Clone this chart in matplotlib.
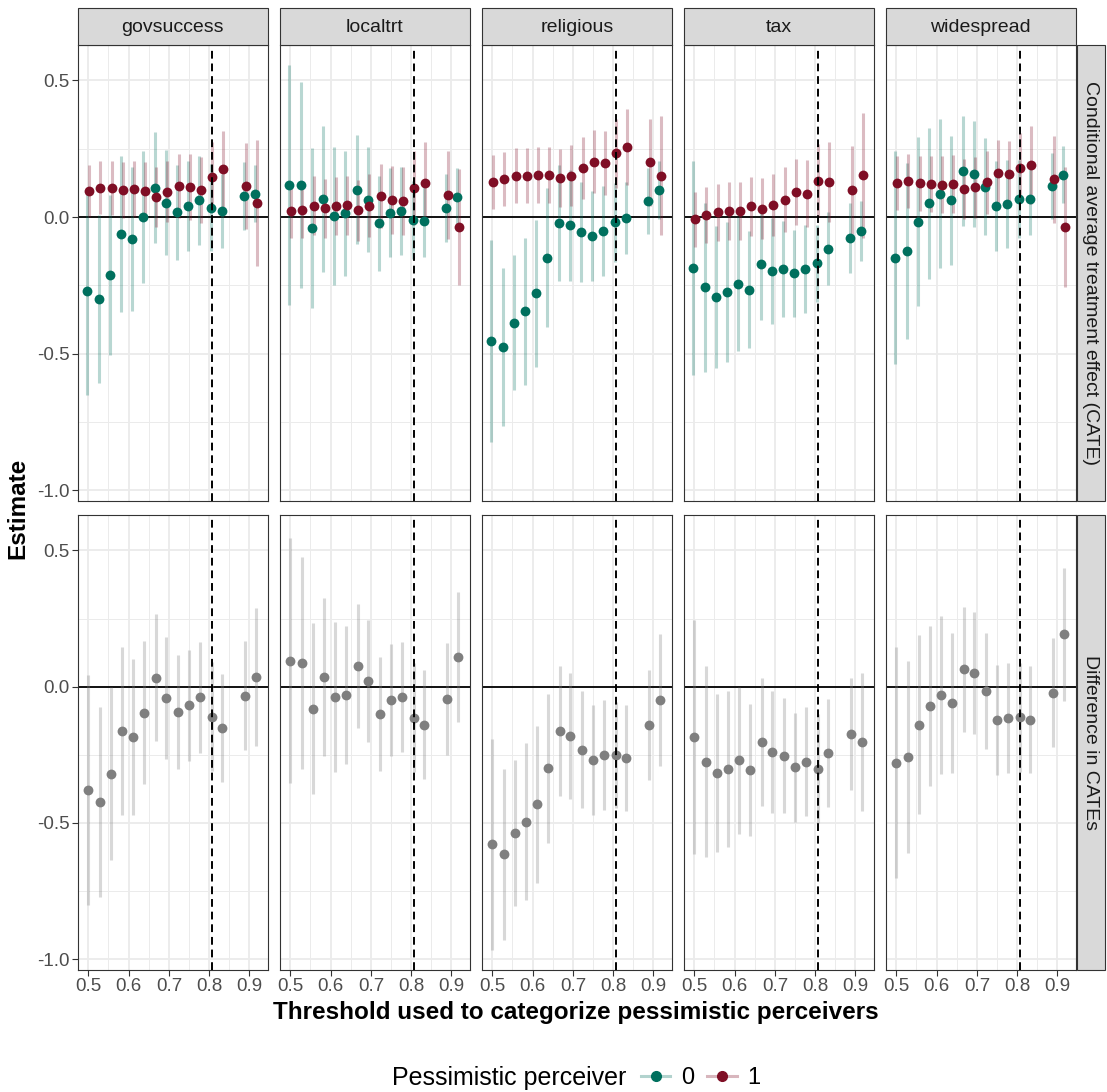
import matplotlib
matplotlib.use("Agg")
import matplotlib.pyplot as plt
from matplotlib.lines import Line2D
from matplotlib.patches import Rectangle

plt.rcParams['font.family'] = ['Liberation Sans', 'DejaVu Sans']
plt.rcParams['axes.unicode_minus'] = False

# thresholds used to split pessimistic perceivers
THRESH = [0.500, 0.528, 0.556, 0.583, 0.611, 0.639, 0.667, 0.694,
          0.722, 0.750, 0.778, 0.806, 0.833, 0.889, 0.917]
CUTOFF = 0.806
TOPICS = ["govsuccess", "localtrt", "religious", "tax", "widespread"]
ROWS = ["Conditional average treatment effect (CATE)", "Difference in CATEs"]

# --- govsuccess ---
GOV_EST0 = [-0.272, -0.301, -0.211, -0.062, -0.081, 0.000, 0.108, 0.053, 0.017, 0.040, 0.061, 0.034, 0.023, 0.078, 0.086]
GOV_HW0 = [0.379, 0.307, 0.293, 0.284, 0.264, 0.241, 0.204, 0.192, 0.173, 0.164, 0.162, 0.160, 0.135, 0.124, 0.105]
GOV_EST1 = [0.095, 0.108, 0.106, 0.099, 0.102, 0.095, 0.075, 0.092, 0.114, 0.110, 0.099, 0.147, 0.176, 0.114, 0.051]
GOV_HW1 = [0.095, 0.098, 0.100, 0.102, 0.103, 0.105, 0.110, 0.112, 0.116, 0.120, 0.122, 0.128, 0.140, 0.157, 0.231]
GOV_DIFF = [-0.379, -0.423, -0.320, -0.163, -0.185, -0.095, 0.033, -0.040, -0.093, -0.068, -0.039, -0.110, -0.152, -0.033, 0.034]
GOV_HWD = [0.423, 0.350, 0.318, 0.309, 0.286, 0.263, 0.232, 0.224, 0.209, 0.204, 0.203, 0.200, 0.197, 0.201, 0.253]

# --- localtrt ---
LOC_EST0 = [0.117, 0.116, -0.040, 0.065, 0.004, 0.013, 0.100, 0.064, -0.023, 0.016, 0.022, -0.010, -0.013, 0.034, 0.072]
LOC_HW0 = [0.441, 0.377, 0.292, 0.268, 0.254, 0.229, 0.199, 0.192, 0.174, 0.162, 0.161, 0.142, 0.132, 0.125, 0.109]
LOC_EST1 = [0.022, 0.027, 0.042, 0.032, 0.040, 0.043, 0.024, 0.042, 0.078, 0.062, 0.059, 0.106, 0.126, 0.080, -0.037]
LOC_HW1 = [0.100, 0.104, 0.107, 0.107, 0.107, 0.109, 0.113, 0.115, 0.118, 0.125, 0.126, 0.135, 0.148, 0.161, 0.212]
LOC_DIFF = [0.095, 0.088, -0.081, 0.034, -0.037, -0.031, 0.076, 0.022, -0.101, -0.048, -0.038, -0.115, -0.139, -0.046, 0.109]
LOC_HWD = [0.450, 0.389, 0.313, 0.290, 0.276, 0.253, 0.229, 0.224, 0.210, 0.205, 0.203, 0.200, 0.200, 0.205, 0.238]

# --- religious ---
REL_EST0 = [-0.454, -0.476, -0.387, -0.345, -0.280, -0.149, -0.022, -0.031, -0.055, -0.069, -0.051, -0.020, -0.004, 0.059, 0.099]
REL_HW0 = [0.369, 0.291, 0.248, 0.269, 0.270, 0.255, 0.214, 0.202, 0.182, 0.165, 0.164, 0.143, 0.131, 0.121, 0.107]
REL_EST1 = [0.129, 0.138, 0.152, 0.152, 0.155, 0.153, 0.142, 0.152, 0.180, 0.203, 0.198, 0.233, 0.257, 0.200, 0.151]
REL_HW1 = [0.099, 0.099, 0.099, 0.101, 0.102, 0.102, 0.107, 0.110, 0.113, 0.115, 0.118, 0.126, 0.140, 0.159, 0.218]
REL_DIFF = [-0.578, -0.615, -0.537, -0.495, -0.432, -0.300, -0.163, -0.181, -0.231, -0.270, -0.251, -0.251, -0.262, -0.141, -0.050]
REL_HWD = [0.387, 0.314, 0.267, 0.289, 0.287, 0.273, 0.240, 0.230, 0.214, 0.202, 0.201, 0.196, 0.193, 0.201, 0.243]

# --- tax ---
TAX_EST0 = [-0.187, -0.257, -0.293, -0.274, -0.246, -0.266, -0.171, -0.197, -0.190, -0.206, -0.191, -0.170, -0.116, -0.076, -0.051]
TAX_HW0 = [0.393, 0.309, 0.261, 0.256, 0.245, 0.215, 0.207, 0.194, 0.175, 0.159, 0.160, 0.140, 0.134, 0.128, 0.110]
TAX_EST1 = [-0.009, 0.007, 0.017, 0.022, 0.022, 0.039, 0.031, 0.044, 0.064, 0.091, 0.086, 0.133, 0.129, 0.098, 0.153]
TAX_HW1 = [0.102, 0.103, 0.104, 0.106, 0.107, 0.109, 0.112, 0.114, 0.119, 0.121, 0.122, 0.133, 0.147, 0.161, 0.228]
TAX_DIFF = [-0.185, -0.275, -0.317, -0.303, -0.271, -0.307, -0.202, -0.240, -0.253, -0.296, -0.276, -0.302, -0.243, -0.174, -0.202]
TAX_HWD = [0.429, 0.352, 0.290, 0.287, 0.271, 0.243, 0.235, 0.224, 0.211, 0.199, 0.200, 0.200, 0.199, 0.205, 0.253]

# --- widespread ---
WID_EST0 = [-0.149, -0.124, -0.017, 0.050, 0.086, 0.061, 0.168, 0.159, 0.111, 0.040, 0.048, 0.065, 0.067, 0.114, 0.155]
WID_HW0 = [0.390, 0.322, 0.310, 0.276, 0.272, 0.236, 0.201, 0.194, 0.178, 0.165, 0.162, 0.143, 0.132, 0.122, 0.105]
WID_EST1 = [0.126, 0.131, 0.124, 0.121, 0.118, 0.122, 0.102, 0.109, 0.127, 0.162, 0.159, 0.180, 0.191, 0.138, -0.038]
WID_HW1 = [0.099, 0.099, 0.101, 0.103, 0.104, 0.106, 0.110, 0.111, 0.115, 0.119, 0.121, 0.128, 0.144, 0.159, 0.220]
WID_DIFF = [-0.279, -0.258, -0.139, -0.071, -0.032, -0.061, 0.064, 0.051, -0.016, -0.121, -0.115, -0.112, -0.122, -0.022, 0.192]
WID_HWD = [0.424, 0.353, 0.329, 0.295, 0.290, 0.257, 0.229, 0.223, 0.212, 0.202, 0.201, 0.200, 0.196, 0.201, 0.243]

CATE = {
    "govsuccess": (GOV_EST0, GOV_HW0, GOV_EST1, GOV_HW1),
    "localtrt": (LOC_EST0, LOC_HW0, LOC_EST1, LOC_HW1),
    "religious": (REL_EST0, REL_HW0, REL_EST1, REL_HW1),
    "tax": (TAX_EST0, TAX_HW0, TAX_EST1, TAX_HW1),
    "widespread": (WID_EST0, WID_HW0, WID_EST1, WID_HW1),
}
DIFF = {
    "govsuccess": (GOV_DIFF, GOV_HWD),
    "localtrt": (LOC_DIFF, LOC_HWD),
    "religious": (REL_DIFF, REL_HWD),
    "tax": (TAX_DIFF, TAX_HWD),
    "widespread": (WID_DIFF, WID_HWD),
}

GREEN = "#00705E"
RED = "#7F0E25"
GREY_PT = "#7F7F7F"
DODGE = 0.0022

W, H = 1107, 1092
fig = plt.figure(figsize=(W / 100, H / 100), dpi=100)


def box(x0, y0, x1, y1):
    return [x0 / W, 1 - y1 / H, (x1 - x0) / W, (y1 - y0) / H]


LEFTS = [78, 280, 482, 684, 886]
PW = 189.5
ROW_Y = [(45, 501), (515, 970)]


def style(ax, left, bottom):
    ax.set_xlim(0.4744, 0.9447)
    ax.set_ylim(-1.04, 0.63)
    ax.set_xticks([0.5, 0.6, 0.7, 0.8, 0.9])
    ax.set_xticks([0.55, 0.65, 0.75, 0.85], minor=True)
    ax.set_yticks([0.5, 0.0, -0.5, -1.0])
    ax.set_yticks([0.25, -0.25, -0.75], minor=True)
    ax.grid(which='major', color='#EBEBEB', lw=1.3, zorder=0)
    ax.grid(which='minor', color='#EBEBEB', lw=0.7, zorder=0)
    ax.set_axisbelow(True)
    for s in ax.spines.values():
        s.set_color('#333333')
        s.set_linewidth(0.8)
    ax.tick_params(which='minor', length=0)
    ax.tick_params(which='major', length=4, width=0.8, color='#333333',
                   labelsize=13.5, labelcolor='#4D4D4D', pad=2)
    if left:
        ax.set_yticklabels(["0.5", "0.0", "-0.5", "-1.0"])
    else:
        ax.tick_params(axis='y', which='major', length=0, labelleft=False)
    if bottom:
        ax.set_xticklabels(["0.5", "0.6", "0.7", "0.8", "0.9"])
    else:
        ax.tick_params(axis='x', which='major', length=0, labelbottom=False)
    ax.axhline(0, color='black', lw=1.3, zorder=2)
    ax.axvline(CUTOFF, color='black', lw=1.4, ls=(0, (4, 2.5)), zorder=5)


for j, topic in enumerate(TOPICS):
    x0 = LEFTS[j]
    # top row: CATE by group
    ax = fig.add_axes(box(x0, ROW_Y[0][0], x0 + PW, ROW_Y[0][1]))
    style(ax, j == 0, False)
    e0, h0, e1, h1 = CATE[topic]
    xs0 = [t - DODGE for t in THRESH]
    xs1 = [t + DODGE for t in THRESH]
    ax.vlines(xs0, [e - h for e, h in zip(e0, h0)], [e + h for e, h in zip(e0, h0)],
              color=GREEN, alpha=0.28, lw=2.2, zorder=3)
    ax.vlines(xs1, [e - h for e, h in zip(e1, h1)], [e + h for e, h in zip(e1, h1)],
              color=RED, alpha=0.28, lw=2.2, zorder=3)
    ax.scatter(xs0, e0, s=50, color=GREEN, zorder=4, linewidths=0)
    ax.scatter(xs1, e1, s=50, color=RED, zorder=4, linewidths=0)

    # strip on top
    fig.patches.append(Rectangle((x0 / W, 1 - 45 / H), PW / W, 37.5 / H,
                                 transform=fig.transFigure, facecolor='#D9D9D9',
                                 edgecolor='#333333', lw=0.8))
    fig.text((x0 + PW / 2) / W, 1 - 27 / H, topic, ha='center', va='center',
             fontsize=14, color='#1A1A1A')

    # bottom row: difference
    ax = fig.add_axes(box(x0, ROW_Y[1][0], x0 + PW, ROW_Y[1][1]))
    style(ax, j == 0, True)
    d, hd = DIFF[topic]
    ax.vlines(THRESH, [e - h for e, h in zip(d, hd)], [e + h for e, h in zip(d, hd)],
              color=GREY_PT, alpha=0.3, lw=2.2, zorder=3)
    ax.scatter(THRESH, d, s=50, color=GREY_PT, zorder=4, linewidths=0)

# right-side strips
for i, (ya, yb) in enumerate(ROW_Y):
    fig.patches.append(Rectangle((1077 / W, 1 - yb / H), 28 / W, (yb - ya) / H,
                                 transform=fig.transFigure, facecolor='#D9D9D9',
                                 edgecolor='#333333', lw=0.8))
    fig.text(1091 / W, 1 - (ya + yb) / 2 / H, ROWS[i], ha='center', va='center',
             rotation=-90, fontsize=14, color='#1A1A1A')

fig.text(18 / W, 1 - 508 / H, "Estimate", rotation=90, ha='center', va='center',
         fontsize=17.5, fontweight='bold')
fig.text(576 / W, 1 - 1012 / H, "Threshold used to categorize pessimistic perceivers",
         ha='center', va='center', fontsize=17.5, fontweight='bold')

# legend
fig.text(626 / W, 1 - 1078 / H, "Pessimistic perceiver", ha='right', va='center',
         fontsize=18)
keys = []
for c in (GREEN, RED):
    keys.append((Line2D([], [], color=c, alpha=0.3, lw=2.2),
                 Line2D([], [], color=c, marker='o', ls='none', markersize=7)))
leg = fig.legend(keys, ["0", "1"], loc='center left', ncol=2, frameon=False,
                 bbox_to_anchor=(622 / W, 1 - 1078 / H), fontsize=17,
                 handlelength=1.25, handletextpad=0.45, columnspacing=0.55,
                 borderpad=0.3)

fig.savefig("out.png", dpi=100)
